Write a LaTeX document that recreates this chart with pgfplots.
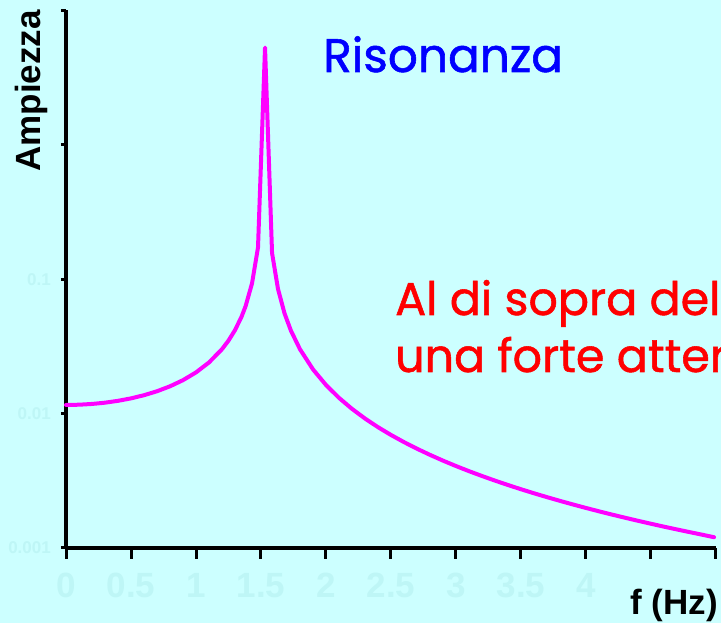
\documentclass[border=0pt]{standalone}
\usepackage{fontspec}
\setmainfont{Liberation Sans}
\newfontfamily\comic{Poppins}[FakeBold=1.2]
\usepackage{pgfplots}
\pgfplotsset{compat=1.18}
\definecolor{bg}{RGB}{204,255,255}
\definecolor{faint}{RGB}{190,246,246}
\definecolor{curve}{RGB}{255,0,255}
\definecolor{titleblue}{RGB}{0,0,255}
\definecolor{notered}{RGB}{255,0,0}
\begin{document}
\begin{tikzpicture}[x=1pt,y=1pt]
\useasboundingbox (0,0) rectangle (721,623);
\clip (0,0) rectangle (721,623);
\fill[bg] (0,0) rectangle (721,623);
\begin{axis}[
  at={(66pt,75pt)}, anchor=south west,
  scale only axis, width=650pt, height=537.5pt,
  xmin=0, xmax=5, ymin=0.001, ymax=10, ymode=log,
  axis x line*=bottom, axis y line*=left,
  axis line style={line width=3.5pt, black},
  tick align=outside,
  major tick length=11pt,
  minor tick length=5pt,
  tick style={line width=3pt, black},
  xtick={0,0.5,1,1.5,2,2.5,3,3.5,4,4.5,5},
  xticklabels={0,0.5,1,1.5,2,2.5,3,3.5,4,,},
  ytick={0.001,0.01,0.1,1,10},
  yticklabels={0.001,0.01,0.1,,},
  minor ytick={0.001,0.01,0.1,1,10},
  every major y tick/.append style={draw=none},
  xticklabel style={font=\fontsize{35}{40}\selectfont\bfseries, text=faint, inner sep=0pt, anchor=north, yshift=-14pt},
  yticklabel style={font=\fontsize{17}{20}\selectfont\bfseries, text=faint, inner sep=0pt, anchor=east, xshift=-4pt},
  clip=false,
]
\addplot[curve, line width=4pt, line join=round, line cap=round] coordinates {
(0,0.01160) (0.1,0.011649) (0.2,0.011801) (0.3,0.012063) (0.4,0.012451)
(0.5,0.012987) (0.6,0.013709) (0.7,0.014673) (0.8,0.015968) (0.9,0.017744)
(1.0,0.020261) (1.1,0.024030) (1.2,0.030178) (1.25,0.034939) (1.3,0.041803)
(1.35,0.052527) (1.381,0.06283) (1.431,0.09317) (1.477,0.17225) (1.531,5.3)
(1.585,0.15664) (1.631,0.08446) (1.681,0.05573) (1.73,0.04149) (1.8,0.030111)
(1.9,0.021345) (2.0,0.016334) (2.1,0.013100) (2.2,0.010848) (2.3,0.009193)
(2.4,0.007930) (2.5,0.006937) (2.6,0.006137) (2.7,0.005480) (2.8,0.004932)
(2.9,0.004469) (3.0,0.004073) (3.1,0.003731) (3.2,0.003434) (3.3,0.003173)
(3.4,0.002942) (3.5,0.002737) (3.6,0.002554) (3.7,0.002390) (3.8,0.002242)
(3.9,0.002108) (4.0,0.001986) (4.1,0.001875) (4.2,0.001773) (4.3,0.001680)
(4.4,0.001594) (4.5,0.001515) (4.6,0.001441) (4.7,0.001374) (4.8,0.001311)
(4.9,0.001252) (4.985,0.001203)
};
\end{axis}
\node[rotate=90, inner sep=0pt, font=\fontsize{35}{40}\selectfont\bfseries] at (31,532) {Ampiezza};
\node[anchor=base east, inner sep=0pt, font=\fontsize{35}{40}\selectfont\bfseries] at (718,8) {f (Hz)};
\node[anchor=base west, inner sep=0pt, text=titleblue, font=\comic\fontsize{47}{56}\selectfont] at (323,551) {Risonanza};
\node[anchor=base west, inner sep=0pt, text=notered, font=\comic\fontsize{46}{50}\selectfont] at (395,308) {Al di sopra della risonanza};
\node[anchor=base west, inner sep=0pt, text=notered, font=\comic\fontsize{46}{50}\selectfont] at (395,251) {una forte attenuazione};
\end{tikzpicture}
\end{document}
